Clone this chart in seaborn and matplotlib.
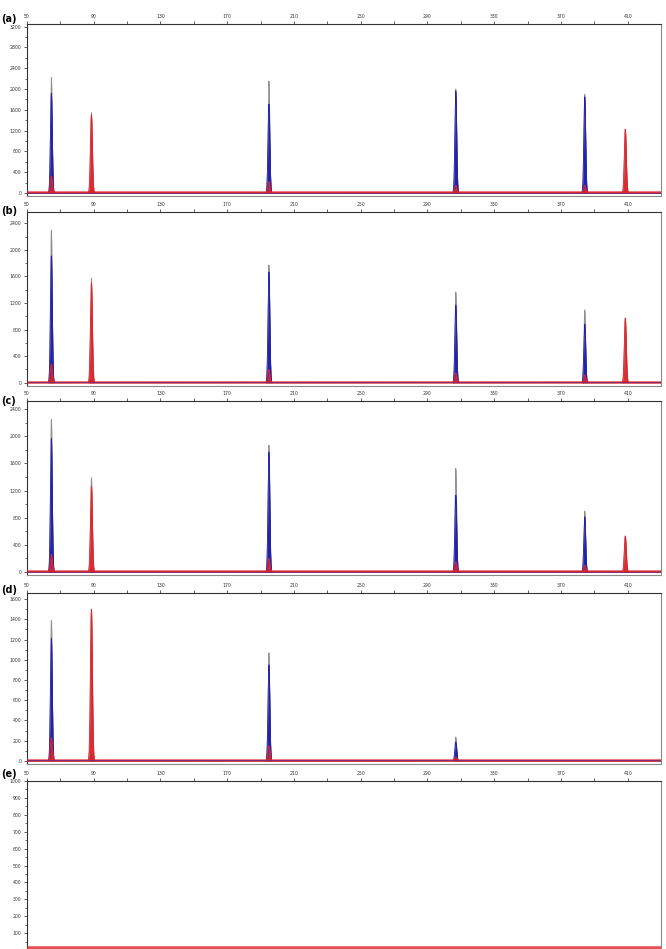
import numpy as np
import pandas as pd
import matplotlib
matplotlib.use("Agg")
import matplotlib.pyplot as plt
from matplotlib.ticker import FixedLocator
import seaborn as sns

# ---------------- data ----------------
panel_labels = ["(a)", "(b)", "(c)", "(d)", "(e)"]
peak_pos = [64.6, 88.6, 195.0, 307.0, 384.3, 408.6]

blue_a = [1918, 60, 1712, 1960, 1850, 0]
red_a = [330, 1500, 220, 150, 150, 1225]
tip_a = [2226, 1545, 2155, 2000, 1899, 1225]

blue_b = [1908, 50, 1667, 1170, 885, 0]
red_b = [280, 1497, 200, 150, 120, 973]
tip_b = [2299, 1572, 1772, 1366, 1096, 973]

blue_c = [1968, 50, 1767, 1134, 814, 0]
red_c = [260, 1266, 200, 150, 100, 530]
tip_c = [2248, 1388, 1870, 1527, 898, 530]

blue_d = [1214, 60, 950, 188, 0, 0]
red_d = [230, 1501, 150, 40, 0, 0]
tip_d = [1388, 1501, 1069, 237, 0, 0]

blue_e = [0, 0, 0, 0, 0, 0]
red_e = [0, 0, 0, 0, 0, 0]
tip_e = [0, 0, 0, 0, 0, 0]

baseline_level = [12, 12, 12, 12, 10]

x_major = [50, 90, 130, 170, 210, 250, 290, 330, 370, 410]
x_minor = [70, 110, 150, 190, 230, 270, 310, 350, 390]

y_major_a = [0, 400, 800, 1200, 1600, 2000, 2400, 2800, 3200]
y_major_b = [0, 400, 800, 1200, 1600, 2000, 2400]
y_major_c = [0, 400, 800, 1200, 1600, 2000, 2400]
y_major_d = [0, 200, 400, 600, 800, 1000, 1200, 1400, 1600]
y_major_e = [100, 200, 300, 400, 500, 600, 700, 800, 900, 1000]

y_lims = [(-58, 3250), (-50, 2570), (-45, 2520), (-30, 1660), (-17, 1000)]
x_lim = (50, 430)

# --------------- layout (pixels) ---------------
W, H = 666, 949
boxes = [(24, 196), (212, 386), (401, 575), (593, 764), (781, 953)]
label_y = [19, 211, 401, 590, 774]
LEFT, RIGHT = 27, 661

sns.set_theme(style="white")
plt.rcParams["font.family"] = ["DejaVu Sans"]

fig = plt.figure(figsize=(W / 100, H / 100), dpi=100)
fig.patch.set_facecolor("white")

BLUE = "#2222aa"
RED = "#e0242a"
TIP = "#8e8e8e"
SPINE = "#8a8a8a"

xs = np.linspace(x_lim[0], x_lim[1], 9000)


def curve(heights, sigma):
    out = np.zeros_like(xs)
    for p, h in zip(peak_pos, heights):
        out += h * np.exp(-0.5 * ((xs - p) / sigma) ** 2)
    return out


series = [
    (blue_a, red_a, tip_a, y_major_a),
    (blue_b, red_b, tip_b, y_major_b),
    (blue_c, red_c, tip_c, y_major_c),
    (blue_d, red_d, tip_d, y_major_d),
    (blue_e, red_e, tip_e, y_major_e),
]

for i, (blue, red, tip, ymaj) in enumerate(series):
    top, bot = boxes[i]
    ax = fig.add_axes([LEFT / W, 1 - bot / H, (RIGHT - LEFT) / W, (bot - top) / H])
    ax.set_facecolor("white")

    df = pd.DataFrame({
        "x": xs,
        "tip": curve(tip, 0.5),
        "blue": curve(blue, 0.55),
        "red": curve(red, 0.6),
    })

    ax.fill_between(df["x"], 0, df["tip"], color=TIP, lw=0, zorder=2)
    ax.fill_between(df["x"], 0, df["blue"], color=BLUE, lw=0, zorder=3)
    ax.fill_between(df["x"], 0, df["red"], color=RED, lw=0, alpha=0.9, zorder=4)
    sns.lineplot(data=df, x="x", y="tip", color=TIP, lw=0.6, ax=ax,
                 estimator=None, zorder=2)
    sns.lineplot(data=df, x="x", y="blue", color=BLUE, lw=0.6, ax=ax,
                 estimator=None, zorder=3)
    sns.lineplot(data=df, x="x", y="red", color=RED, lw=0.6, ax=ax,
                 estimator=None, zorder=4)

    # baseline noise band
    bl = baseline_level[i]
    ax.axhline(bl, color=RED, lw=1.8 if i < 4 else 2.6, alpha=0.8, zorder=5)
    ax.axhline(bl * 0.4, color="#6a2d7a", lw=0.6, alpha=0.9, zorder=6)

    ax.set_xlim(*x_lim)
    ax.set_ylim(*y_lims[i])
    ax.set_xlabel("")
    ax.set_ylabel("")

    ax.xaxis.set_major_locator(FixedLocator(x_major))
    ax.xaxis.set_minor_locator(FixedLocator(x_minor))
    ax.set_xticklabels([str(v) for v in x_major])
    ax.yaxis.set_major_locator(FixedLocator(ymaj))
    step = ymaj[1] - ymaj[0]
    minors = [v - step / 2 for v in ymaj if v - step / 2 > 0]
    ax.yaxis.set_minor_locator(FixedLocator(minors))
    ax.set_yticklabels([str(v) for v in ymaj])

    ax.xaxis.tick_top()
    ax.tick_params(axis="x", which="both", top=True, bottom=False,
                   labeltop=True, labelbottom=False, direction="out",
                   length=2.5, width=0.6, color="#444444", pad=1.2,
                   labelsize=3.3, labelcolor="#333333")
    ax.tick_params(axis="y", which="major", left=True, direction="out",
                   length=2.5, width=0.6, color="#444444", pad=1.5,
                   labelsize=3.3, labelcolor="#333333")
    ax.tick_params(axis="y", which="minor", left=True, direction="out",
                   length=1.5, width=0.5, color="#444444")
    for name, sp in ax.spines.items():
        sp.set_visible(True)
        sp.set_color(SPINE)
        sp.set_linewidth(0.8)
    ax.spines["top"].set_color("#333333")
    ax.spines["left"].set_color("#333333")

    fig.text(1 / W, 1 - label_y[i] / H, panel_labels[i], fontsize=7,
             fontweight="bold", ha="left", va="center", color="black")

fig.savefig("out.png", dpi=100)
